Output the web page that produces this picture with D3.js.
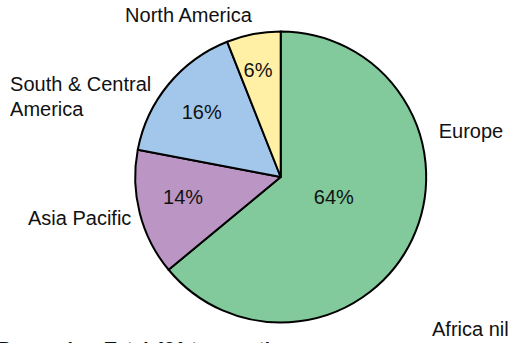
<!DOCTYPE html>
<html><head><meta charset="utf-8">
<script src="https://cdn.jsdelivr.net/npm/d3@7"></script>
<style>
html,body{margin:0;padding:0;background:#fff;overflow:hidden;}
text{font-family:"Liberation Sans",Arial,Helvetica,sans-serif;fill:#111;}
</style></head>
<body>
<svg id="chart" width="510" height="343"></svg>
<script>
// Data
const regions = ["Europe", "Asia Pacific", "South & Central America", "North America", "Africa"];
const shares = [64, 14, 16, 6, 0];
const pctLabels = ["64%", "14%", "16%", "6%", ""];
const outerLabels = [["Europe"], ["Asia Pacific"], ["South & Central", "America"], ["North America"], ["Africa nil"]];
const caption = "Proceeds – Total 491 transactions";

// Layout / style
const colors = ["#82c99b", "#bb96c4", "#a3c7ea", "#fff0a6", "#dddddd"];
const cx = 280.7, cy = 177, r = 145.5;
const pctRadiusFactor = [0.39, 0.685, 0.705, 0.755, 0.7];
const pctAngleShift = [-0.08, 0.05, 0, -0.02, 0]; // radians
// outer label anchors relative to pie center, in units of r
const outerPos = [
  {dx: 1.086, dy: -0.27, anchor: "start"},
  {dx: -1.737, dy: 0.33, anchor: "start"},
  {dx: -1.86, dy: -0.59, anchor: "start"},
  {dx: -0.634, dy: -1.062, anchor: "middle"},
  {dx: 1.04, dy: 1.09, anchor: "start"}
];

const svg = d3.select("#chart");
const g = svg.append("g").attr("transform", `translate(${cx},${cy})`);

const pie = d3.pie().sort(null).value(d => d.v);
const data = regions.map((name, i) => ({name, v: shares[i], i}));
const arcs = pie(data);
const arc = d3.arc().innerRadius(0).outerRadius(r);

g.selectAll("path.slice")
  .data(arcs.filter(a => a.data.v > 0))
  .join("path")
  .attr("class", "slice")
  .attr("d", arc)
  .attr("fill", d => colors[d.data.i])
  .attr("stroke", "#000")
  .attr("stroke-width", 2)
  .attr("stroke-linejoin", "round");

// percentage labels
g.selectAll("text.pct")
  .data(arcs.filter(a => a.data.v > 0))
  .join("text")
  .attr("class", "pct")
  .attr("text-anchor", "middle")
  .attr("dy", "0.35em")
  .attr("font-size", 20)
  .attr("transform", d => {
    const rr = r * pctRadiusFactor[d.data.i];
    const a = (d.startAngle + d.endAngle) / 2 + pctAngleShift[d.data.i];
    return `translate(${Math.sin(a) * rr},${-Math.cos(a) * rr})`;
  })
  .text(d => pctLabels[d.data.i]);

// outer labels
arcs.forEach(a => {
  const p = outerPos[a.data.i];
  const t = g.append("text")
    .attr("x", p.dx * r)
    .attr("y", p.dy * r)
    .attr("text-anchor", p.anchor)
    .attr("font-size", 20);
  outerLabels[a.data.i].forEach((line, k) => {
    t.append("tspan").attr("x", p.dx * r).attr("dy", k === 0 ? 0 : 24.5).text(line);
  });
});

// caption (partially cut off at bottom, as in the reference)
svg.append("text")
  .attr("x", -2)
  .attr("y", 355)
  .attr("font-size", 19)
  .attr("font-weight", "bold")
  .text(caption);
</script>
</body></html>
